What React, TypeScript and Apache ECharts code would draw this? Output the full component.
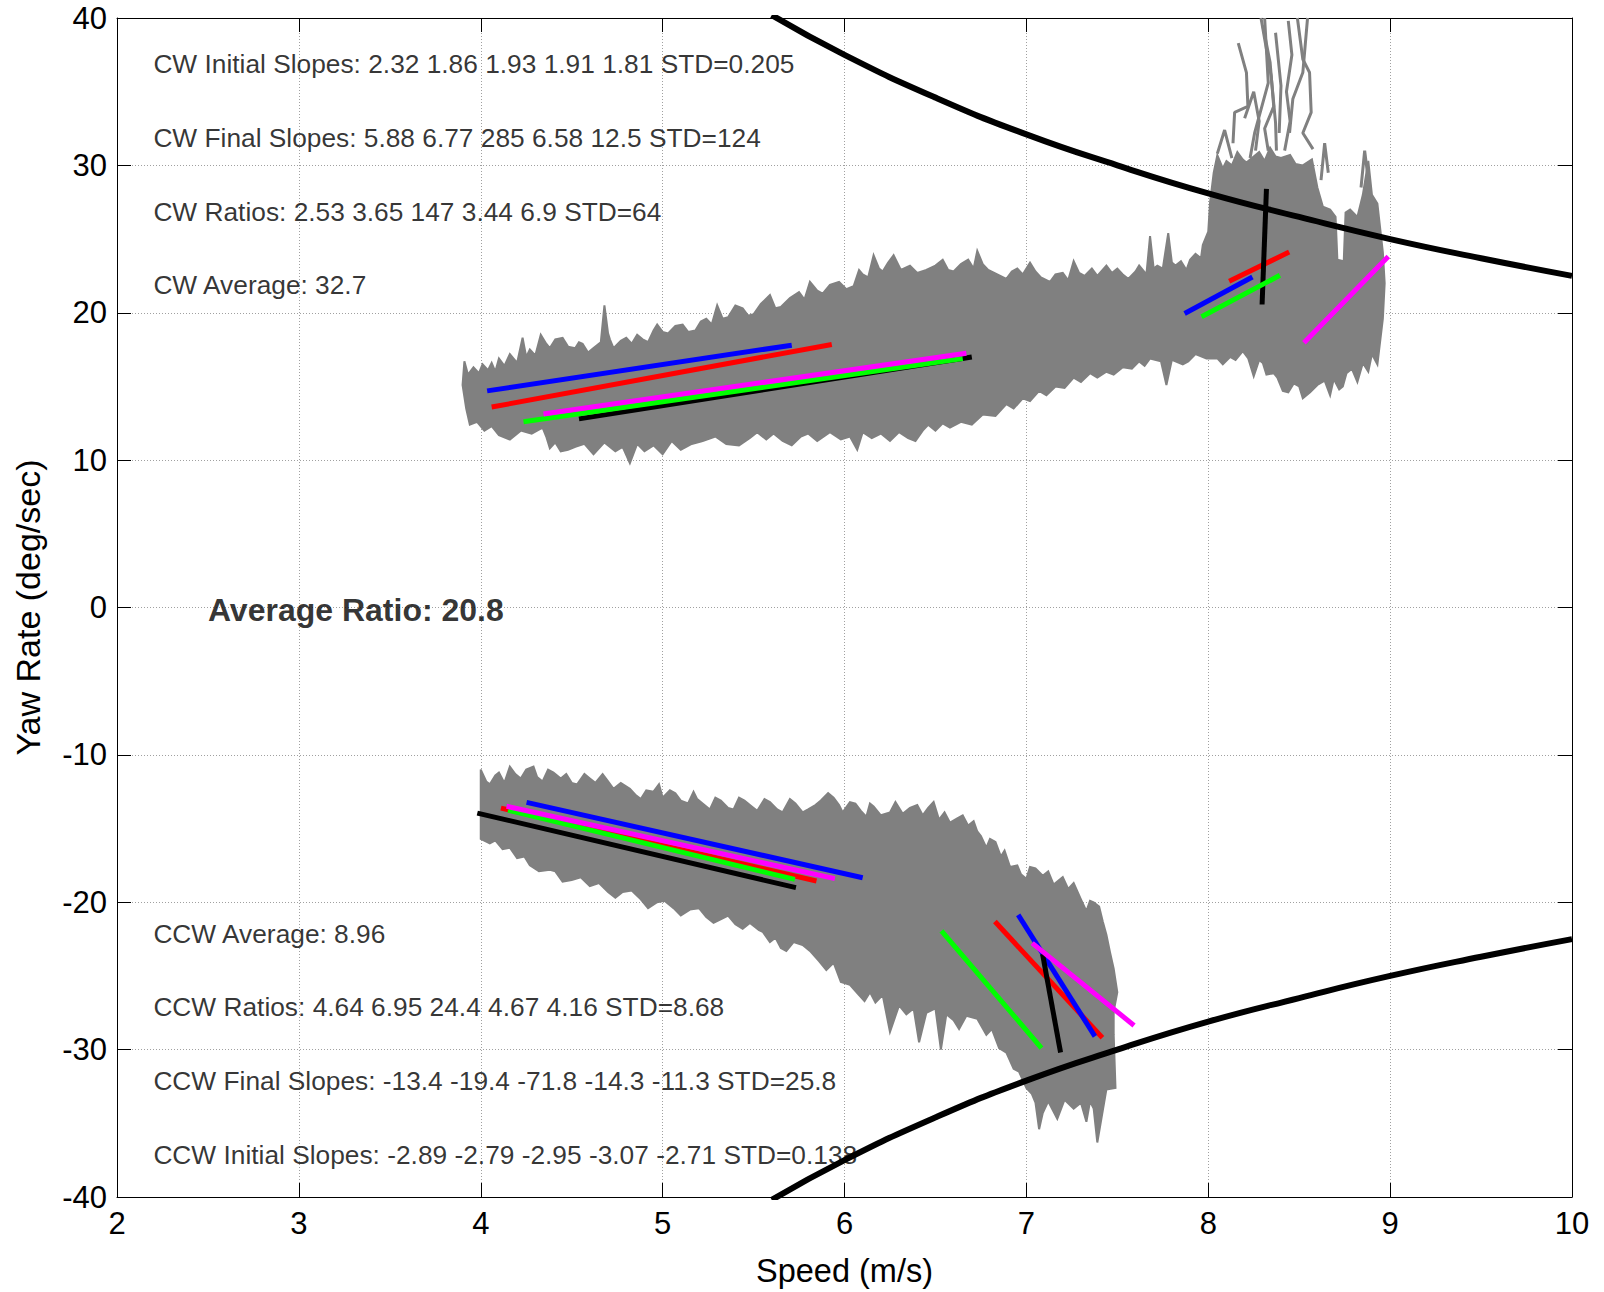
import React, { useEffect, useRef } from "react";
import * as echarts from "echarts";

// ---------- data ----------
const xMin = 2;
const xMax = 10;
const yMin = -40;
const yMax = 40;

// lateral-acceleration limit curves
const limitUpper = [
  [5.6, 40.2], [6.0, 37.5], [6.5, 34.6], [7.0, 32.1], [7.5, 30.0],
  [8.0, 28.1], [8.5, 26.5], [9.0, 25.0], [9.5, 23.7], [10.0, 22.5],
];
const limitLower = [
  [5.6, -40.2], [6.0, -37.5], [6.5, -34.6], [7.0, -32.1], [7.5, -30.0],
  [8.0, -28.1], [8.5, -26.5], [9.0, -25.0], [9.5, -23.7], [10.0, -22.5],
];

// run order: red, blue, black, green, magenta
const runNames = ["Run 1", "Run 2", "Run 3", "Run 4", "Run 5"];
const cwInitialFits = [
  [[4.06, 13.6], [5.93, 17.85]],
  [[4.035, 14.7], [5.71, 17.8]],
  [[4.54, 12.8], [6.7, 17.0]],
  [[4.235, 12.6], [6.65, 16.9]],
  [[4.345, 13.13], [6.67, 17.25]],
];
const cwFinalFits = [
  [[8.115, 22.14], [8.445, 24.12]],
  [[7.87, 19.95], [8.243, 22.43]],
  [[8.296, 20.56], [8.32, 28.4]],
  [[7.963, 19.73], [8.394, 22.54]],
  [[8.526, 17.97], [8.99, 23.82]],
];
const ccwInitialFits = [
  [[4.111, -13.61], [5.846, -18.56]],
  [[4.252, -13.22], [6.1, -18.34]],
  [[3.981, -13.95], [5.733, -19.01]],
  [[4.15, -13.75], [5.727, -18.45]],
  [[4.142, -13.49], [5.947, -18.4]],
];
const ccwFinalFits = [
  [[6.827, -21.31], [7.418, -29.19]],
  [[6.955, -20.86], [7.377, -29.1]],
  [[7.089, -23.51], [7.188, -30.2]],
  [[6.533, -21.94], [7.083, -29.89]],
  [[7.032, -22.77], [7.592, -28.36]],
];

// envelope of the measured CW traces (upper edge left→right, lower edge right→left)
const cwBand = [
  [3.9, 15.1], [3.91, 16.7], [3.93, 15.8], [3.96, 16.3], [3.99, 15.9], [4.01, 16.5], [4.04, 16.1], [4.06, 16.6],
  [4.08, 16.0], [4.1, 16.9], [4.13, 16.4], [4.16, 17.2], [4.2, 16.6], [4.23, 18.3], [4.25, 17.0], [4.27, 17.5],
  [4.3, 17.1], [4.33, 18.5], [4.36, 17.9], [4.38, 17.6], [4.41, 18.2], [4.45, 18.3], [4.48, 17.7], [4.52, 17.6],
  [4.54, 18.0], [4.56, 17.9], [4.59, 17.3], [4.62, 17.6], [4.66, 18.0], [4.68, 20.5], [4.7, 18.6], [4.71, 18.2],
  [4.73, 17.6], [4.77, 18.1], [4.8, 18.3], [4.83, 17.9], [4.86, 18.5], [4.89, 18.2], [4.92, 18.0], [4.95, 18.8],
  [4.97, 19.2], [5.0, 18.7], [5.03, 18.6], [5.07, 19.1], [5.11, 19.2], [5.14, 18.7], [5.18, 18.8], [5.21, 19.4],
  [5.24, 19.6], [5.27, 19.2], [5.3, 20.5], [5.33, 19.6], [5.36, 19.7], [5.4, 20.5], [5.44, 20.3], [5.47, 19.8],
  [5.5, 19.9], [5.54, 20.6], [5.59, 21.2], [5.62, 20.3], [5.65, 20.4], [5.7, 21.0], [5.75, 21.4], [5.78, 20.9],
  [5.81, 22.1], [5.85, 21.5], [5.88, 21.3], [5.92, 21.9], [5.97, 22.1], [6.01, 21.6], [6.05, 21.8], [6.08, 22.9],
  [6.1, 22.6], [6.13, 22.4], [6.16, 23.9], [6.19, 23.0], [6.21, 22.8], [6.24, 23.4], [6.27, 23.9], [6.31, 22.9],
  [6.36, 23.2], [6.4, 22.7], [6.45, 22.9], [6.5, 23.2], [6.54, 23.6], [6.57, 22.9], [6.6, 22.8], [6.64, 23.3],
  [6.68, 23.6], [6.71, 23.0], [6.73, 24.2], [6.76, 23.3], [6.79, 22.9], [6.84, 22.6], [6.89, 22.3], [6.92, 22.8],
  [6.95, 23.0], [6.98, 22.6], [7.02, 23.4], [7.05, 22.8], [7.08, 22.4], [7.13, 22.1], [7.16, 22.6], [7.2, 22.7],
  [7.23, 22.2], [7.26, 23.5], [7.29, 22.7], [7.32, 22.5], [7.36, 23.0], [7.39, 22.5], [7.44, 23.2], [7.47, 22.7],
  [7.5, 23.0], [7.53, 22.6], [7.56, 22.3], [7.6, 22.8], [7.62, 23.2], [7.66, 22.6], [7.68, 25.2], [7.7, 23.0],
  [7.72, 23.2], [7.75, 23.0], [7.78, 25.4], [7.8, 23.4], [7.82, 23.2], [7.85, 23.5], [7.88, 22.9], [7.9, 23.6],
  [7.93, 24.0], [7.96, 23.7], [7.97, 24.6], [8.0, 25.5], [8.01, 27.5], [8.03, 29.5], [8.05, 30.7], [8.08, 29.8],
  [8.1, 30.3], [8.13, 30.0], [8.16, 30.9], [8.19, 30.4], [8.21, 30.2], [8.25, 30.6], [8.28, 30.9], [8.31, 30.3],
  [8.34, 31.2], [8.37, 30.6], [8.4, 30.5], [8.45, 30.7], [8.48, 30.1], [8.52, 30.0], [8.57, 30.4], [8.6, 28.5],
  [8.63, 27.2], [8.67, 27.0], [8.7, 26.5], [8.71, 23.6], [8.745, 23.5], [8.755, 26.8], [8.78, 27.0], [8.82, 26.5],
  [8.85, 28.0], [8.88, 30.3], [8.9, 28.0], [8.93, 27.4], [8.96, 24.1], [8.97, 22.0], [8.96, 19.6],
  [8.93, 16.5], [8.9, 17.2], [8.88, 16.0], [8.85, 16.6], [8.82, 15.3], [8.79, 16.2], [8.76, 15.9], [8.74, 15.0],
  [8.72, 14.8], [8.69, 15.5], [8.67, 14.4], [8.64, 15.4], [8.6, 15.1], [8.56, 14.6], [8.52, 14.2], [8.5, 15.0],
  [8.47, 15.2], [8.44, 14.6], [8.41, 14.7], [8.38, 15.6], [8.36, 15.9], [8.32, 15.8], [8.3, 16.6], [8.28, 16.8],
  [8.25, 15.7], [8.22, 16.9], [8.19, 17.4], [8.15, 16.8], [8.12, 17.0], [8.08, 16.5], [8.05, 16.9], [7.99, 16.9],
  [7.93, 17.2], [7.89, 16.7], [7.86, 16.5], [7.8, 16.8], [7.77, 15.1], [7.74, 16.7], [7.68, 16.9], [7.65, 16.4],
  [7.62, 16.7], [7.58, 16.2], [7.53, 16.3], [7.48, 15.8], [7.44, 16.0], [7.39, 15.6], [7.35, 15.9], [7.3, 15.3],
  [7.26, 15.6], [7.21, 14.9], [7.16, 15.0], [7.11, 14.4], [7.07, 14.7], [7.02, 14.0], [6.98, 14.2], [6.93, 13.5],
  [6.89, 13.8], [6.83, 13.0], [6.76, 13.1], [6.7, 12.4], [6.64, 12.6], [6.58, 12.2], [6.54, 12.5], [6.5, 12.0],
  [6.46, 12.4], [6.43, 12.0], [6.39, 11.3], [6.35, 11.5], [6.3, 11.9], [6.25, 11.3], [6.2, 11.8], [6.15, 11.5],
  [6.1, 11.9], [6.07, 10.7], [6.03, 11.6], [5.98, 11.4], [5.92, 11.9], [5.85, 11.3], [5.8, 11.8], [5.76, 11.6],
  [5.71, 11.0], [5.66, 11.3], [5.61, 11.8], [5.57, 11.4], [5.52, 11.9], [5.48, 11.5], [5.42, 11.0], [5.35, 11.1],
  [5.29, 11.6], [5.22, 11.3], [5.16, 11.1], [5.1, 10.7], [5.05, 11.3], [5.0, 10.4], [4.95, 11.0], [4.9, 10.6],
  [4.86, 11.1], [4.82, 9.8], [4.78, 10.9], [4.74, 10.6], [4.68, 11.2], [4.62, 10.4], [4.57, 11.1], [4.52, 10.9],
  [4.48, 10.7], [4.44, 10.6], [4.41, 11.2], [4.38, 10.8], [4.36, 11.6], [4.34, 12.2], [4.28, 11.8], [4.22, 12.0],
  [4.16, 11.4], [4.1, 11.7], [4.06, 12.3], [4.02, 12.0], [3.98, 12.6], [3.94, 12.4], [3.92, 13.5],
];

// envelope of the measured CCW traces
const ccwBand = [
  [4.0, -15.7], [4.0, -11.0], [4.03, -11.8], [4.05, -12.0], [4.08, -11.4], [4.1, -11.2], [4.13, -11.9], [4.16, -10.8],
  [4.19, -11.3], [4.22, -11.6], [4.25, -11.0], [4.29, -10.8], [4.31, -11.5], [4.34, -11.8], [4.37, -11.0], [4.4, -11.2],
  [4.44, -11.6], [4.47, -11.3], [4.5, -11.9], [4.53, -12.0], [4.57, -11.3], [4.6, -11.6], [4.63, -11.9], [4.67, -11.3],
  [4.7, -11.8], [4.73, -12.3], [4.77, -11.9], [4.82, -12.3], [4.85, -12.7], [4.88, -13.0], [4.91, -12.4], [4.95, -12.5],
  [4.98, -12.0], [5.0, -12.9], [5.04, -12.4], [5.07, -12.6], [5.1, -13.1], [5.14, -13.3], [5.17, -12.5], [5.19, -13.0],
  [5.23, -13.4], [5.26, -13.7], [5.29, -12.9], [5.32, -13.1], [5.36, -13.6], [5.39, -13.7], [5.42, -12.9], [5.45, -13.1],
  [5.49, -13.5], [5.52, -13.8], [5.56, -13.0], [5.59, -13.2], [5.63, -13.7], [5.66, -13.9], [5.7, -13.0], [5.73, -13.3],
  [5.77, -13.9], [5.8, -13.7], [5.84, -13.4], [5.87, -13.1], [5.91, -12.6], [5.94, -12.9], [5.97, -13.4], [5.99, -13.9],
  [6.03, -13.2], [6.06, -13.3], [6.09, -13.8], [6.12, -14.2], [6.14, -13.3], [6.16, -13.5], [6.2, -14.1], [6.25, -13.9],
  [6.28, -13.2], [6.32, -14.0], [6.36, -13.6], [6.4, -13.4], [6.43, -14.1], [6.46, -13.6], [6.49, -13.2], [6.52, -14.4],
  [6.55, -13.9], [6.58, -14.6], [6.62, -14.3], [6.65, -14.1], [6.68, -14.8], [6.71, -14.5], [6.73, -15.2], [6.75, -15.5],
  [6.78, -16.3], [6.8, -15.7], [6.83, -15.9], [6.86, -16.9], [6.88, -16.5], [6.91, -17.6], [6.95, -17.5], [6.97, -18.1],
  [7.0, -18.4], [7.02, -17.6], [7.05, -17.7], [7.09, -18.2], [7.12, -17.9], [7.15, -18.8], [7.2, -18.3], [7.23, -19.1],
  [7.26, -18.7], [7.3, -19.8], [7.33, -20.6], [7.35, -19.9], [7.37, -20.0], [7.4, -20.3], [7.42, -21.3], [7.44, -22.2],
  [7.46, -23.4], [7.48, -24.5], [7.5, -26.1], [7.48, -27.4], [7.48, -29.0], [7.49, -32.6],
  [7.44, -32.7], [7.39, -36.3], [7.37, -34.0], [7.35, -33.5], [7.33, -34.9], [7.3, -33.6], [7.26, -34.0], [7.21, -33.4],
  [7.17, -34.7], [7.12, -33.5], [7.09, -34.3], [7.07, -35.4], [7.05, -33.6], [7.03, -33.0], [7.0, -32.6], [6.96, -31.5],
  [6.93, -31.3], [6.89, -30.2], [6.85, -29.9], [6.81, -28.6], [6.78, -29.0], [6.73, -27.9], [6.67, -27.7], [6.63, -28.6],
  [6.6, -28.0], [6.56, -27.6], [6.53, -30.0], [6.5, -27.2], [6.45, -27.5], [6.41, -29.5], [6.38, -27.2], [6.34, -27.6],
  [6.3, -27.0], [6.25, -28.8], [6.21, -26.3], [6.17, -26.8], [6.14, -26.1], [6.11, -26.7], [6.08, -26.3], [6.03, -25.6],
  [5.98, -25.4], [5.94, -24.1], [5.9, -24.6], [5.86, -24.0], [5.81, -23.3], [5.77, -22.9], [5.72, -22.7], [5.68, -23.3],
  [5.65, -23.1], [5.62, -22.4], [5.59, -22.7], [5.55, -22.0], [5.53, -21.9], [5.48, -21.4], [5.44, -21.8], [5.4, -21.5],
  [5.36, -20.9], [5.33, -21.1], [5.28, -21.4], [5.24, -21.0], [5.2, -20.4], [5.15, -20.5], [5.1, -20.9], [5.06, -20.4],
  [5.01, -19.9], [4.97, -20.0], [4.92, -20.4], [4.88, -19.8], [4.83, -19.2], [4.78, -19.3], [4.74, -19.7], [4.7, -19.3],
  [4.65, -18.7], [4.6, -18.9], [4.55, -18.3], [4.5, -18.5], [4.45, -18.6], [4.41, -17.9], [4.38, -17.8], [4.32, -17.9],
  [4.27, -17.5], [4.24, -16.9], [4.2, -17.0], [4.16, -16.3], [4.12, -16.4], [4.08, -15.8], [4.05, -16.0],
];

// individual traces that shoot above the CW cloud
const cwSpikeTraces = [
  [[8.136, 31.5], [8.145, 33.6], [8.218, 34.0], [8.21, 36.3], [8.165, 38.3]],
  [[8.29, 40.0], [8.346, 36.05], [8.37, 32.9], [8.375, 31.0]],
  [[8.37, 39.0], [8.4, 35.4], [8.39, 32.2]],
  [[8.49, 40.0], [8.52, 37.2], [8.557, 36.3], [8.566, 33.6], [8.52, 32.2], [8.576, 31.1]],
  [[8.546, 40.0], [8.52, 36.3], [8.465, 34.5], [8.447, 32.2]],
  [[8.31, 40.0], [8.33, 35.6], [8.255, 32.2], [8.23, 30.5]],
  [[8.05, 30.8], [8.09, 32.4], [8.13, 30.5]],
  [[8.3, 39.5], [8.34, 37.0], [8.36, 34.0], [8.31, 32.5], [8.33, 31.0]],
  [[8.44, 39.8], [8.46, 37.5], [8.43, 35.0], [8.45, 33.0], [8.42, 31.0]],
  [[8.2, 33.2], [8.25, 35.0], [8.28, 33.0], [8.26, 31.0]],
  [[8.62, 29.0], [8.64, 31.5], [8.66, 29.5]],
  [[8.84, 28.5], [8.86, 31.0], [8.88, 29.0]],
];

const noteX = [2.2, 2.2, 2.2, 2.2, 2.2, 2.2, 2.2, 2.2];
const noteY = [37, 32, 27, 22, -22, -27, -32, -37];
const noteTexts = [
  "CW Initial Slopes: 2.32 1.86 1.93 1.91 1.81 STD=0.205",
  "CW Final Slopes: 5.88 6.77 285 6.58 12.5 STD=124",
  "CW Ratios: 2.53 3.65 147 3.44 6.9 STD=64",
  "CW Average: 32.7",
  "CCW Average: 8.96",
  "CCW Ratios: 4.64 6.95 24.4 4.67 4.16 STD=8.68",
  "CCW Final Slopes: -13.4 -19.4 -71.8 -14.3 -11.3 STD=25.8",
  "CCW Initial Slopes: -2.89 -2.79 -2.95 -3.07 -2.71 STD=0.138",
];
const summaryPoint = [2.5, 0];
const summaryText = "Average Ratio: 20.8";

// ---------- styles ----------
const FONT = "'Liberation Sans', Arial, Helvetica, sans-serif";
const runColors = ["#ff0000", "#0000ff", "#000000", "#00ff00", "#ff00ff"];
const traceGray = "#808080";

function bandSeries(name: string, band: number[][]) {
  return {
    name,
    type: "custom",
    coordinateSystem: "cartesian2d",
    data: [band[0]],
    clip: true,
    silent: true,
    z: 2,
    renderItem: (_params: any, api: any) => ({
      type: "polygon",
      shape: { points: band.map((p) => api.coord(p)) },
      style: { fill: traceGray, stroke: traceGray, lineWidth: 2, lineJoin: "miter" },
    }),
  };
}

function fitSeries(prefix: string, fits: number[][][]) {
  return fits.map((seg, i) => ({
    name: `${prefix} ${runNames[i]}`,
    type: "line",
    data: seg,
    showSymbol: false,
    symbol: "none",
    silent: true,
    z: 4,
    lineStyle: { color: runColors[i], width: 5, cap: "butt" },
  }));
}

export default function App() {
  const ref = useRef<HTMLDivElement>(null);

  useEffect(() => {
    document.body.style.margin = "0";
    if (!ref.current) return;
    const chart = echarts.init(ref.current, undefined, { renderer: "svg" });

    const notes = noteTexts.map((t, i) => ({ value: [noteX[i], noteY[i]], text: t }));

    const series: any[] = [
      {
        name: "notes",
        type: "scatter",
        symbolSize: 0,
        silent: true,
        z: 1,
        data: notes,
        label: {
          show: true,
          position: "right",
          distance: 0,
          offset: [0, 2],
          formatter: (p: any) => p.data.text,
          color: "#000",
          fontSize: 26.3,
          fontFamily: FONT,
        },
      },
      {
        name: "summary",
        type: "scatter",
        symbolSize: 0,
        silent: true,
        z: 1,
        data: [{ value: summaryPoint, text: summaryText }],
        label: {
          show: true,
          position: "right",
          distance: 0,
          offset: [0, 2],
          formatter: (p: any) => p.data.text,
          color: "#000",
          fontSize: 32,
          fontWeight: "bold",
          fontFamily: FONT,
        },
      },
      bandSeries("CW traces", cwBand),
      bandSeries("CCW traces", ccwBand),
      ...cwSpikeTraces.map((tr, i) => ({
        name: `CW spike ${i + 1}`,
        type: "line",
        data: tr,
        showSymbol: false,
        symbol: "none",
        silent: true,
        z: 2,
        lineStyle: { color: traceGray, width: 3 },
      })),
      ...fitSeries("CW initial", cwInitialFits),
      ...fitSeries("CW final", cwFinalFits),
      ...fitSeries("CCW initial", ccwInitialFits),
      ...fitSeries("CCW final", ccwFinalFits),
      {
        name: "Limit +",
        type: "line",
        data: limitUpper,
        smooth: true,
        showSymbol: false,
        symbol: "none",
        silent: true,
        z: 5,
        lineStyle: { color: "#000", width: 6 },
      },
      {
        name: "Limit -",
        type: "line",
        data: limitLower,
        smooth: true,
        showSymbol: false,
        symbol: "none",
        silent: true,
        z: 5,
        lineStyle: { color: "#000", width: 6 },
      },
    ];

    const tickStyle = { inside: true, length: 14, lineStyle: { color: "#000", width: 1 } };
    const gridLine = { show: true, lineStyle: { color: "#a0a0a0", width: 1, type: [1, 2] } };

    chart.setOption({
      animation: false,
      backgroundColor: "#fff",
      grid: { left: 117, right: 32, top: 18, bottom: 91, containLabel: false },
      xAxis: [
        {
          type: "value",
          min: xMin,
          max: xMax,
          interval: 1,
          position: "bottom",
          axisLine: { show: true, onZero: false, lineStyle: { color: "#000", width: 1 } },
          axisTick: tickStyle,
          axisLabel: { fontSize: 31, color: "#000", margin: 11, fontFamily: FONT },
          splitLine: gridLine,
          name: "Speed (m/s)",
          nameLocation: "middle",
          nameGap: 57,
          nameTextStyle: { fontSize: 32.5, color: "#000", fontFamily: FONT },
        },
        {
          type: "value",
          min: xMin,
          max: xMax,
          interval: 1,
          position: "top",
          axisLine: { show: true, onZero: false, lineStyle: { color: "#000", width: 1 } },
          axisTick: tickStyle,
          axisLabel: { show: false },
          splitLine: { show: false },
        },
      ],
      yAxis: [
        {
          type: "value",
          min: yMin,
          max: yMax,
          interval: 10,
          position: "left",
          axisLine: { show: true, onZero: false, lineStyle: { color: "#000", width: 1 } },
          axisTick: tickStyle,
          axisLabel: { fontSize: 31, color: "#000", margin: 10, fontFamily: FONT },
          splitLine: gridLine,
          name: "Yaw Rate (deg/sec)",
          nameLocation: "middle",
          nameGap: 72,
          nameTextStyle: { fontSize: 34, color: "#000", fontFamily: FONT },
        },
        {
          type: "value",
          min: yMin,
          max: yMax,
          interval: 10,
          position: "right",
          axisLine: { show: true, onZero: false, lineStyle: { color: "#000", width: 1 } },
          axisTick: tickStyle,
          axisLabel: { show: false },
          splitLine: { show: false },
        },
      ],
      series,
    });

    return () => chart.dispose();
  }, []);

  return <div ref={ref} style={{ width: 1604, height: 1292 }} />;
}
